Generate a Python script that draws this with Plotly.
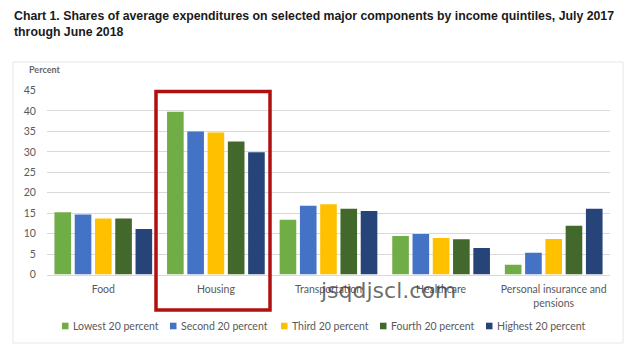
import plotly.graph_objects as go

categories = ["Food", "Housing", "Transportation", "Healthcare", "Personal insurance and<br>pensions"]
series_names = ["Lowest 20 percent", "Second 20 percent", "Third 20 percent", "Fourth 20 percent", "Highest 20 percent"]
lowest = [15.2, 39.8, 13.4, 9.4, 2.4]
second = [14.7, 35.0, 16.8, 9.9, 5.3]
third = [13.7, 34.7, 17.2, 8.9, 8.7]
fourth = [13.7, 32.5, 16.1, 8.6, 11.9]
highest = [11.1, 29.9, 15.5, 6.5, 16.1]
colors = ["#70AD47", "#4472C4", "#FFC000", "#43682B", "#264478"]
y_ticks = [0, 5, 10, 15, 20, 25, 30, 35, 40, 45]

W, H = 641, 356
OX, OY = 8, 8  # page body margin offset
# plot area in target pixels
PL, PR, PT, PB = 47, 610, 90.5, 274.5

def fx(x):
    return (x - OX) / W

def fy(y):
    return 1 - (y - OY) / H

fig = go.Figure()
for name, vals, c in zip(series_names, [lowest, second, third, fourth, highest], colors):
    fig.add_trace(go.Bar(x=categories, y=vals, name=name, marker_color=c, marker_line_width=0,
                         showlegend=False))

tick_font = dict(family="Lato, Open Sans, sans-serif", size=10.5, color="#595959")

shapes = [
    dict(type="rect", xref="paper", yref="paper", x0=fx(13), x1=fx(623), y0=fy(343), y1=fy(62),
         line=dict(color="#E6E6E6", width=1), fillcolor="rgba(0,0,0,0)", layer="below"),
    dict(type="rect", xref="paper", yref="paper", x0=fx(156), x1=fx(270), y0=fy(310), y1=fy(91.5),
         line=dict(color="#B01010", width=3.5), fillcolor="rgba(0,0,0,0)"),
]
annotations = [
    dict(text="<b>Chart 1. Shares of average expenditures on selected major components by income quintiles, July 2017<br>through June 2018</b>",
         xref="paper", yref="paper", x=fx(12), y=fy(7), xanchor="left", yanchor="top",
         align="left", showarrow=False,
         font=dict(family="Liberation Sans, Arial, sans-serif", size=12.3, color="#1a1a1a")),
    dict(text="<b>Percent</b>", xref="paper", yref="paper", x=fx(27), y=fy(69.5), xanchor="left",
         yanchor="middle", showarrow=False,
         font=dict(family="Lato, Open Sans, sans-serif", size=9, color="#666666")),
    dict(text="jsqdjscl.com", xref="paper", yref="paper", x=fx(388), y=fy(290), xanchor="center",
         yanchor="middle", showarrow=False,
         font=dict(family="DejaVu Sans, sans-serif", size=22, color="rgba(60,60,60,0.75)")),
]

# manual legend
legend_sq_x = [62, 170, 281, 380, 486]
LY = 326
for name, c, sx in zip(series_names, colors, legend_sq_x):
    shapes.append(dict(type="rect", xref="paper", yref="paper", x0=fx(sx), x1=fx(sx + 6.5),
                       y0=fy(LY + 3.3), y1=fy(LY - 3.3), line=dict(width=0), fillcolor=c))
    annotations.append(dict(text=name, xref="paper", yref="paper", x=fx(sx + 8.5), y=fy(LY),
                            xanchor="left", yanchor="middle", showarrow=False, font=tick_font))

fig.update_layout(
    width=W, height=H,
    margin=dict(l=0, r=0, t=0, b=0),
    paper_bgcolor="white", plot_bgcolor="white",
    bargap=0.1, bargroupgap=0.18,
    showlegend=False,
    yaxis=dict(domain=[fy(PB), fy(PT)], range=[0, 45], tickvals=y_ticks, showgrid=True,
               gridcolor="#D9D9D9", gridwidth=1, zeroline=False, tickfont=tick_font,
               ticks="outside", ticklen=8, tickcolor="rgba(0,0,0,0)", fixedrange=True,
               automargin=False),
    xaxis=dict(domain=[fx(PL), fx(PR)], showline=True, linecolor="#D9D9D9", tickfont=tick_font,
               ticks="outside", ticklen=5, tickcolor="rgba(0,0,0,0)", fixedrange=True,
               automargin=False),
    shapes=shapes,
    annotations=annotations,
)

fig.write_html("out.html")
